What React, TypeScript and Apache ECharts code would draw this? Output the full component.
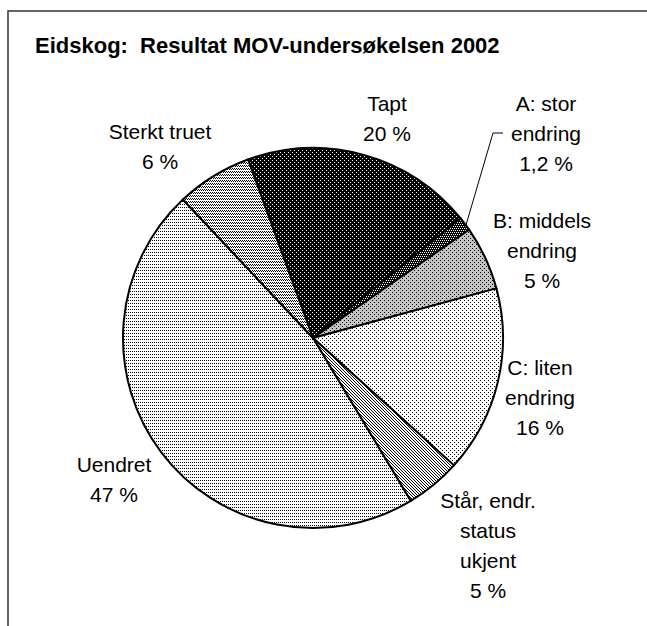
import React, { useEffect, useRef } from 'react';
import * as echarts from 'echarts';

// ---- data ----
const categories = [
  'Tapt',
  'A: stor\nendring',
  'B: middels\nendring',
  'C: liten\nendring',
  'Står, endr.\nstatus\nukjent',
  'Uendret',
  'Sterkt truet',
];
const values = [19.7, 1.2, 5.45, 15.9, 4.7, 46.6, 6.45];
const percentLabels = ['20 %', '1,2 %', '5 %', '16 %', '5 %', '47 %', '6 %'];
const titleText = 'Eidskog:  Resultat MOV-undersøkelsen 2002';

// ---- layout / style ----
const LABEL_POS: number[][] = [
  [387, 118],
  [546, 133],
  [542, 250],
  [540, 397],
  [488, 545],
  [114, 479],
  [160, 146],
];
const A_GUIDE: number[][] = [
  [466, 225],
  [493, 133],
  [503, 133],
];

type Tile = { w: number; h: number; bg: string; fg: string; dots: number[][] };
const TILES: Tile[] = [
  { w: 4, h: 4, bg: '#000000', fg: '#ffffff', dots: [[0, 0], [2, 2]] },
  { w: 4, h: 4, bg: '#000000', fg: '#ffffff', dots: [[0, 0], [2, 0], [1, 2], [3, 2]] },
  { w: 4, h: 4, bg: '#c4c4c4', fg: '#000000', dots: [[0, 0], [2, 2]] },
  { w: 4, h: 4, bg: '#ffffff', fg: '#000000', dots: [[0, 0], [2, 2]] },
  { w: 3, h: 3, bg: '#ffffff', fg: '#000000', dots: [[0, 0], [1, 1], [2, 2]] },
  { w: 2, h: 3, bg: '#ffffff', fg: '#000000', dots: [[0, 0]] },
  { w: 4, h: 3, bg: '#ffffff', fg: '#000000', dots: [[0, 0], [2, 0], [1, 1], [3, 1]] },
];

function makePattern(t: Tile): any {
  const c = document.createElement('canvas');
  c.width = t.w;
  c.height = t.h;
  const ctx = c.getContext('2d')!;
  ctx.fillStyle = t.bg;
  ctx.fillRect(0, 0, t.w, t.h);
  ctx.fillStyle = t.fg;
  t.dots.forEach(([x, y]) => ctx.fillRect(x, y, 1, 1));
  return { image: c.toDataURL(), repeat: 'repeat', imageWidth: t.w, imageHeight: t.h };
}

export default function App() {
  const ref = useRef<HTMLDivElement>(null);
  useEffect(() => {
    if (!ref.current) return;
    const chart = echarts.init(ref.current, undefined, { renderer: 'svg' });
    const font = 'Liberation Sans, Arial, sans-serif';
    const data = categories.map((name, i) => ({
      name,
      value: values[i],
      itemStyle: { color: makePattern(TILES[i]) },
      labelLine: { show: i === 1 },
    }));
    chart.setOption({
      animation: false,
      backgroundColor: '#ffffff',
      title: {
        text: titleText,
        left: 35,
        top: 34,
        padding: 0,
        textStyle: {
          fontFamily: font,
          fontSize: 22,
          fontWeight: 'bold',
          lineHeight: 22,
          color: '#000',
        },
      },
      graphic: [
        {
          type: 'rect',
          silent: true,
          shape: { x: 8, y: 11, width: 700, height: 700 },
          style: { fill: 'none', stroke: '#333', lineWidth: 1.5 },
        },
      ],
      series: [
        {
          type: 'pie',
          silent: true,
          center: [313, 338],
          radius: 190,
          startAngle: 110,
          clockwise: true,
          avoidLabelOverlap: false,
          itemStyle: { borderColor: '#000', borderWidth: 2 },
          emphasis: { disabled: true },
          label: {
            show: true,
            position: 'outside',
            formatter: (p: any) => `${p.name}\n${percentLabels[p.dataIndex]}`,
            fontFamily: font,
            fontSize: 21,
            lineHeight: 30,
            color: '#000',
            align: 'center',
          },
          labelLine: {
            show: false,
            length: 10,
            length2: 12,
            smooth: false,
            lineStyle: { color: '#000', width: 1 },
          },
          labelLayout: (params: any) => {
            const p = LABEL_POS[params.dataIndex];
            const out: any = { x: p[0], y: p[1], align: 'center', verticalAlign: 'middle' };
            if (params.dataIndex === 1) out.labelLinePoints = A_GUIDE;
            return out;
          },
          data,
        },
      ],
    });
    return () => chart.dispose();
  }, []);
  return (
    <div
      ref={ref}
      style={{ position: 'absolute', left: 0, top: 0, width: 647, height: 626, background: '#fff' }}
    />
  );
}
